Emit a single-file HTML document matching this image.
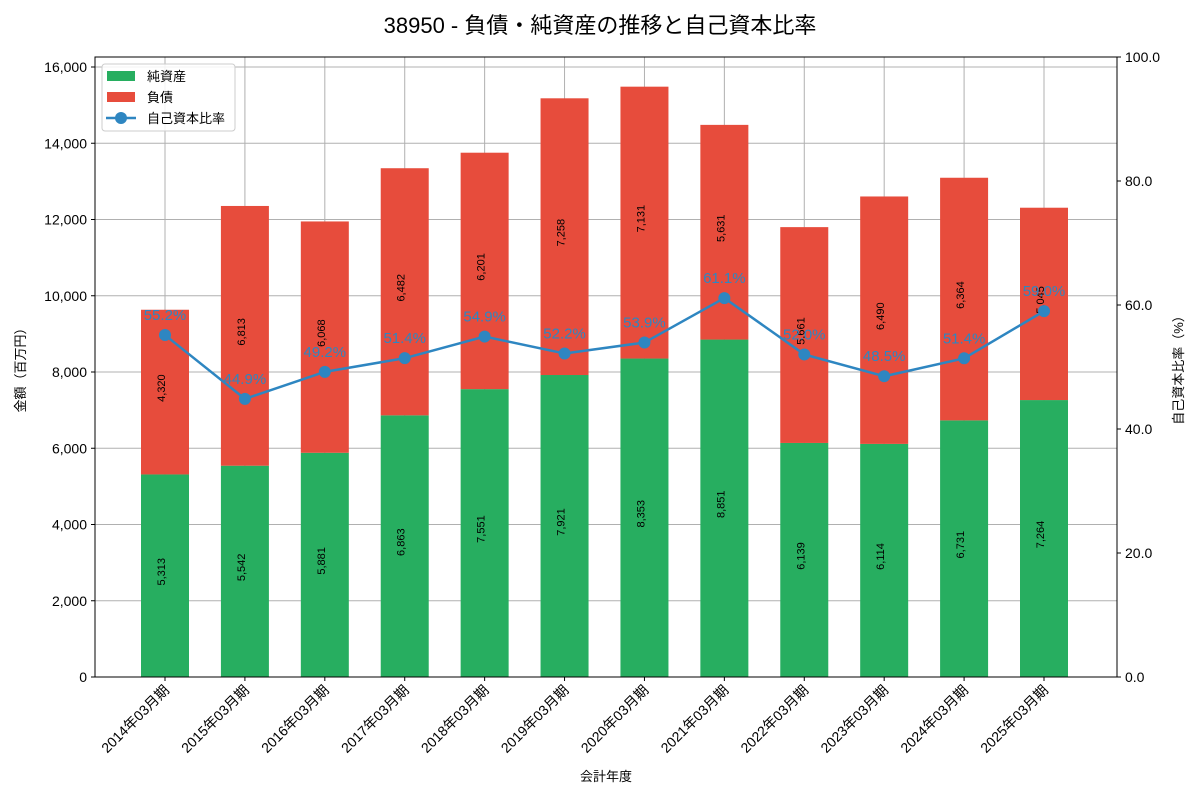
<!DOCTYPE html>
<html><head><meta charset="utf-8">
<style>
body{margin:0;background:#fff;font-family:"Liberation Sans","Noto Sans CJK JP",sans-serif;}
svg text{font-family:"Liberation Sans","Noto Sans CJK JP",sans-serif;}
</style></head>
<body>
<svg id="c" width="1200" height="800" xmlns="http://www.w3.org/2000/svg"></svg>
<script>
const categories=["2014年03月期","2015年03月期","2016年03月期","2017年03月期","2018年03月期","2019年03月期","2020年03月期","2021年03月期","2022年03月期","2023年03月期","2024年03月期","2025年03月期"];
const equity=[5313,5542,5881,6863,7551,7921,8353,8851,6139,6114,6731,7264];
const liabilities=[4320,6813,6068,6482,6201,7258,7131,5631,5661,6490,6364,5045];
const leftTicks=[0,2000,4000,6000,8000,10000,12000,14000,16000];
const rightTicks=[0,20,40,60,80,100];

const svg=document.getElementById('c');
const NS='http://www.w3.org/2000/svg';
const L=95,R=1117,T=57,B=677;
const yL=v=>B-v*(610/16000);
const yR=v=>B-v*(B-T)/100;
const xC=i=>165+i*(879/11);
const bw=48;
function mk(tag,attrs,txt){const e=document.createElementNS(NS,tag);for(const k in attrs)e.setAttribute(k,attrs[k]);if(txt!==undefined)e.textContent=txt;svg.appendChild(e);return e;}
const fmt=v=>v.toLocaleString('en-US');

let e=mk('text',{x:600,y:33,'text-anchor':'middle','font-size':22,fill:'#000'},'38950 - 負債・純資産の推移と自己資本比率');



leftTicks.forEach(t=>{
  e=mk('line',{x1:L,x2:R,y1:yL(t),y2:yL(t),stroke:'#b0b0b0','stroke-width':1});
  
  
  e=mk('line',{x1:L-4,x2:L,y1:yL(t),y2:yL(t),stroke:'#000'});
  
  
  e=mk('text',{x:L-8,y:yL(t)+5,'text-anchor':'end','font-size':14},fmt(t));
  
  
});
categories.forEach((c,i)=>{
  e=mk('line',{x1:xC(i),x2:xC(i),y1:T,y2:B,stroke:'#b0b0b0','stroke-width':1});
  
  
});
rightTicks.forEach(t=>{
  e=mk('line',{x1:R,x2:R+4,y1:yR(t),y2:yR(t),stroke:'#000'});
  
  
  e=mk('text',{x:R+8,y:yR(t)+5,'font-size':14},t.toFixed(1));
  
  
});

categories.forEach((c,i)=>{
  const x=xC(i)-bw/2;
  e=mk('rect',{x:x,y:yL(equity[i]),width:bw,height:B-yL(equity[i]),fill:'#27ae60'});
  
  
  const top=equity[i]+liabilities[i];
  e=mk('rect',{x:x,y:yL(top),width:bw,height:yL(equity[i])-yL(top),fill:'#e74c3c'});
  
  
  let cy=yL(equity[i]/2);
  e=mk('text',{x:xC(i)+4,y:cy,'text-anchor':'middle','font-size':11,transform:`rotate(-90 ${xC(i)} ${cy})`},fmt(equity[i]));
  
  
  cy=yL(equity[i]+liabilities[i]/2);
  e=mk('text',{x:xC(i)+4,y:cy,'text-anchor':'middle','font-size':11,transform:`rotate(-90 ${xC(i)} ${cy})`},fmt(liabilities[i]));
  
  
  e=mk('line',{x1:xC(i),x2:xC(i),y1:B,y2:B+4,stroke:'#000'});
  
  
  e=mk('text',{x:xC(i)+5,y:B+14,'text-anchor':'end','font-size':14,transform:`rotate(-45 ${xC(i)+5} ${B+14})`},c);
  
  
});

const ratio=equity.map((v,i)=>v/(v+liabilities[i])*100);
e=mk('polyline',{points:ratio.map((r,i)=>xC(i)+','+yR(r)).join(' '),fill:'none',stroke:'#2e86c1','stroke-width':2.5});


ratio.forEach((r,i)=>{
  e=mk('circle',{cx:xC(i),cy:yR(r),r:6,fill:'#2e86c1'});
  
  
  e=mk('text',{x:xC(i),y:yR(r)-15,'text-anchor':'middle','font-size':15,fill:'#2e86c1'},r.toFixed(1)+'%');
  
  
});

e=mk('rect',{x:L,y:T,width:R-L,height:B-T,fill:'none',stroke:'#000','stroke-width':1});



e=mk('text',{x:25,y:367,'text-anchor':'middle','font-size':13,transform:'rotate(-90 25 367)'},'金額（百万円）');


e=mk('text',{x:1183,y:367,'text-anchor':'middle','font-size':13,transform:'rotate(-90 1183 367)'},'自己資本比率（%）');


e=mk('text',{x:606,y:781,'text-anchor':'middle','font-size':13},'会計年度');



e=mk('rect',{x:102,y:64,width:133,height:67,rx:3,fill:'#fff','fill-opacity':0.85,stroke:'#ccc'});


e=mk('rect',{x:107,y:71,width:28,height:10,fill:'#27ae60'});


e=mk('text',{x:147,y:81,'font-size':13},'純資産');


e=mk('rect',{x:107,y:92,width:28,height:10,fill:'#e74c3c'});


e=mk('text',{x:147,y:102,'font-size':13},'負債');


e=mk('line',{x1:106,x2:136,y1:118,y2:118,stroke:'#2e86c1','stroke-width':2.5});


e=mk('circle',{cx:121,cy:118,r:6,fill:'#2e86c1'});


e=mk('text',{x:147,y:123,'font-size':13},'自己資本比率');


</script>
</body></html>
